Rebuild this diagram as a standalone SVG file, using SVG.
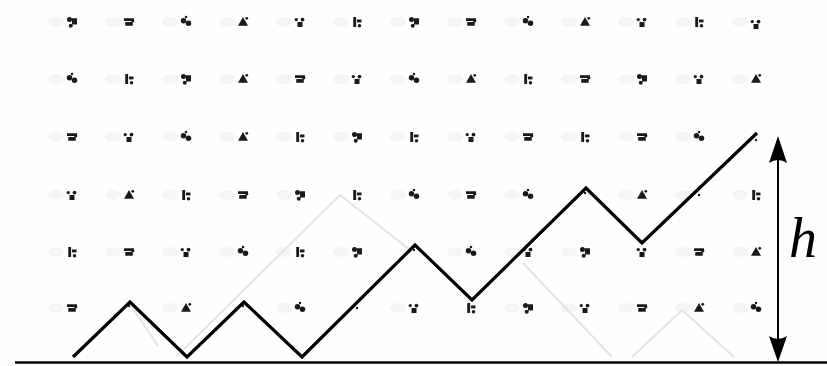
<svg xmlns="http://www.w3.org/2000/svg" width="827" height="366" viewBox="0 0 827 366">
<style>
.ghost{fill:#f5f5f5}
.mk{fill:#1a1a1a}
.faint{fill:none;stroke:#e4e4e4;stroke-width:2}
.path{fill:none;stroke:#000;stroke-width:3.2;stroke-linejoin:miter}
.base{stroke:#000;stroke-width:2.6}
.arr{stroke:#000;stroke-width:2}
.lbl{font-family:"Liberation Serif","DejaVu Serif",serif;font-style:italic;font-size:56px;fill:#000}
</style>
<defs>
<g id="g0" class="mk" transform="scale(1.25)"><circle cx="-2" cy="-2" r="2"/><rect x="0" y="-3" width="4" height="5"/><circle cx="-1" cy="3" r="1.6"/></g>
<g id="g1" class="mk" transform="scale(1.25)"><rect x="-4" y="-3" width="8" height="2.2"/><rect x="-3" y="0" width="6" height="3"/><circle cx="3" cy="-1" r="1.3"/></g>
<g id="g2" class="mk" transform="scale(1.25)"><circle cx="-2" cy="-1" r="2.2"/><circle cx="2" cy="1" r="2.2"/><circle cx="0" cy="-4" r="1"/></g>
<g id="g3" class="mk" transform="scale(1.25)"><path d="M-4 3 L0 -4 L4 3 Z"/><circle cx="3" cy="-3" r="1.1"/></g>
<g id="g4" class="mk" transform="scale(1.25)"><circle cx="-3" cy="-2" r="1.3"/><circle cx="2" cy="-2" r="1.5"/><rect x="-2" y="0" width="4" height="4"/></g>
<g id="g5" class="mk" transform="scale(1.25)"><rect x="-3" y="-4" width="2.3" height="8"/><rect x="0" y="-2" width="3.6" height="2.3"/><circle cx="2" cy="3" r="1.4"/></g>
<g id="dot" class="mk"><circle r="1.2"/></g>
</defs>
<rect width="827" height="366" fill="#fefefe"/>
<g id="ghosts">
<ellipse class="ghost" cx="56" cy="22" rx="8" ry="5"/><ellipse class="ghost" cx="113" cy="22" rx="8" ry="5"/><ellipse class="ghost" cx="170" cy="22" rx="8" ry="5"/><ellipse class="ghost" cx="227" cy="22" rx="8" ry="5"/><ellipse class="ghost" cx="284" cy="22" rx="8" ry="5"/><ellipse class="ghost" cx="341" cy="22" rx="8" ry="5"/><ellipse class="ghost" cx="398" cy="22" rx="8" ry="5"/><ellipse class="ghost" cx="455" cy="22" rx="8" ry="5"/><ellipse class="ghost" cx="512" cy="22" rx="8" ry="5"/><ellipse class="ghost" cx="569" cy="22" rx="8" ry="5"/><ellipse class="ghost" cx="626" cy="22" rx="8" ry="5"/><ellipse class="ghost" cx="683" cy="22" rx="8" ry="5"/><ellipse class="ghost" cx="740" cy="22" rx="8" ry="5"/>
<ellipse class="ghost" cx="56" cy="79" rx="8" ry="5"/><ellipse class="ghost" cx="113" cy="79" rx="8" ry="5"/><ellipse class="ghost" cx="170" cy="79" rx="8" ry="5"/><ellipse class="ghost" cx="227" cy="79" rx="8" ry="5"/><ellipse class="ghost" cx="284" cy="79" rx="8" ry="5"/><ellipse class="ghost" cx="341" cy="79" rx="8" ry="5"/><ellipse class="ghost" cx="398" cy="79" rx="8" ry="5"/><ellipse class="ghost" cx="455" cy="79" rx="8" ry="5"/><ellipse class="ghost" cx="512" cy="79" rx="8" ry="5"/><ellipse class="ghost" cx="569" cy="79" rx="8" ry="5"/><ellipse class="ghost" cx="626" cy="79" rx="8" ry="5"/><ellipse class="ghost" cx="683" cy="79" rx="8" ry="5"/><ellipse class="ghost" cx="740" cy="79" rx="8" ry="5"/>
<ellipse class="ghost" cx="56" cy="137" rx="8" ry="5"/><ellipse class="ghost" cx="113" cy="137" rx="8" ry="5"/><ellipse class="ghost" cx="170" cy="137" rx="8" ry="5"/><ellipse class="ghost" cx="227" cy="137" rx="8" ry="5"/><ellipse class="ghost" cx="284" cy="137" rx="8" ry="5"/><ellipse class="ghost" cx="341" cy="137" rx="8" ry="5"/><ellipse class="ghost" cx="398" cy="137" rx="8" ry="5"/><ellipse class="ghost" cx="455" cy="137" rx="8" ry="5"/><ellipse class="ghost" cx="512" cy="137" rx="8" ry="5"/><ellipse class="ghost" cx="569" cy="137" rx="8" ry="5"/><ellipse class="ghost" cx="626" cy="137" rx="8" ry="5"/><ellipse class="ghost" cx="683" cy="137" rx="8" ry="5"/>
<ellipse class="ghost" cx="56" cy="195" rx="8" ry="5"/><ellipse class="ghost" cx="113" cy="195" rx="8" ry="5"/><ellipse class="ghost" cx="170" cy="195" rx="8" ry="5"/><ellipse class="ghost" cx="227" cy="195" rx="8" ry="5"/><ellipse class="ghost" cx="284" cy="195" rx="8" ry="5"/><ellipse class="ghost" cx="398" cy="195" rx="8" ry="5"/><ellipse class="ghost" cx="455" cy="195" rx="8" ry="5"/><ellipse class="ghost" cx="512" cy="195" rx="8" ry="5"/><ellipse class="ghost" cx="626" cy="195" rx="8" ry="5"/><ellipse class="ghost" cx="683" cy="195" rx="8" ry="5"/><ellipse class="ghost" cx="740" cy="195" rx="8" ry="5"/>
<ellipse class="ghost" cx="56" cy="252" rx="8" ry="5"/><ellipse class="ghost" cx="113" cy="252" rx="8" ry="5"/><ellipse class="ghost" cx="170" cy="252" rx="8" ry="5"/><ellipse class="ghost" cx="227" cy="252" rx="8" ry="5"/><ellipse class="ghost" cx="284" cy="252" rx="8" ry="5"/><ellipse class="ghost" cx="341" cy="252" rx="8" ry="5"/><ellipse class="ghost" cx="455" cy="252" rx="8" ry="5"/><ellipse class="ghost" cx="512" cy="252" rx="8" ry="5"/><ellipse class="ghost" cx="569" cy="252" rx="8" ry="5"/><ellipse class="ghost" cx="683" cy="252" rx="8" ry="5"/><ellipse class="ghost" cx="740" cy="252" rx="8" ry="5"/>
<ellipse class="ghost" cx="56" cy="308" rx="8" ry="5"/><ellipse class="ghost" cx="170" cy="308" rx="8" ry="5"/><ellipse class="ghost" cx="284" cy="308" rx="8" ry="5"/><ellipse class="ghost" cx="398" cy="308" rx="8" ry="5"/><ellipse class="ghost" cx="512" cy="308" rx="8" ry="5"/><ellipse class="ghost" cx="569" cy="308" rx="8" ry="5"/><ellipse class="ghost" cx="626" cy="308" rx="8" ry="5"/><ellipse class="ghost" cx="683" cy="308" rx="8" ry="5"/><ellipse class="ghost" cx="740" cy="308" rx="8" ry="5"/>
</g>
<g id="faint-path">
<polyline class="faint" points="176,357 340,195 410,250"/>
<polyline class="faint" points="130,304 158,346"/>
<polyline class="faint" points="523,263 612,357"/>
<polyline class="faint" points="632,357 682,310 734,357"/>
</g>
<g id="marks">
<use href="#g0" x="72" y="22"/><use href="#g1" x="129" y="22"/><use href="#g2" x="186" y="22"/><use href="#g3" x="243" y="22"/><use href="#g4" x="300" y="22"/><use href="#g5" x="357" y="22"/><use href="#g0" x="414" y="22"/><use href="#g1" x="471" y="22"/><use href="#g2" x="528" y="22"/><use href="#g3" x="585" y="22"/><use href="#g4" x="642" y="22"/><use href="#g5" x="699" y="22"/><use href="#g4" x="756" y="24"/>
<use href="#g2" x="72" y="79"/><use href="#g5" x="129" y="79"/><use href="#g0" x="186" y="79"/><use href="#g3" x="243" y="79"/><use href="#g1" x="300" y="79"/><use href="#g4" x="357" y="79"/><use href="#g2" x="414" y="79"/><use href="#g3" x="471" y="79"/><use href="#g5" x="528" y="79"/><use href="#g1" x="585" y="79"/><use href="#g0" x="642" y="79"/><use href="#g4" x="699" y="79"/><use href="#g3" x="756" y="79"/>
<use href="#g1" x="72" y="137"/><use href="#g4" x="129" y="137"/><use href="#g2" x="186" y="137"/><use href="#g3" x="243" y="137"/><use href="#g5" x="300" y="137"/><use href="#g0" x="357" y="137"/><use href="#g5" x="414" y="137"/><use href="#g4" x="471" y="137"/><use href="#g1" x="528" y="137"/><use href="#g5" x="585" y="137"/><use href="#g1" x="642" y="137"/><use href="#g2" x="699" y="137"/><use href="#dot" x="756" y="140"/>
<use href="#g4" x="72" y="195"/><use href="#g3" x="129" y="195"/><use href="#g5" x="186" y="195"/><use href="#g1" x="243" y="195"/><use href="#g0" x="300" y="195"/><use href="#g5" x="357" y="195"/><use href="#g2" x="414" y="195"/><use href="#g1" x="471" y="195"/><use href="#g2" x="528" y="195"/><use href="#dot" x="585" y="193"/><use href="#g3" x="642" y="195"/><use href="#dot" x="699" y="195"/><use href="#g5" x="756" y="195"/>
<use href="#g5" x="72" y="252"/><use href="#g1" x="129" y="252"/><use href="#g4" x="186" y="252"/><use href="#g2" x="243" y="252"/><use href="#g5" x="300" y="252"/><use href="#g0" x="357" y="252"/><use href="#dot" x="414" y="250"/><use href="#g2" x="471" y="252"/><use href="#g4" x="528" y="252"/><use href="#g0" x="585" y="252"/><use href="#g4" x="642" y="252"/><use href="#g1" x="699" y="252"/><use href="#g3" x="756" y="252"/>
<use href="#g1" x="72" y="308"/><use href="#dot" x="129" y="306"/><use href="#g3" x="186" y="308"/><use href="#dot" x="243" y="306"/><use href="#g2" x="300" y="308"/><use href="#dot" x="357" y="308"/><use href="#g4" x="414" y="308"/><use href="#g5" x="471" y="308"/><use href="#g0" x="528" y="308"/><use href="#g4" x="585" y="308"/><use href="#g1" x="642" y="308"/><use href="#g3" x="699" y="308"/><use href="#g2" x="756" y="308"/>
</g>
<g id="baseline"><line class="base" x1="15" y1="362.5" x2="827" y2="362.5"/></g>
<g id="connectors">
<polyline class="path" points="73,357 130,302 187,357 244,302 302,357 415,245 472,300 586,188 642,243 757,133"/>
</g>
<g id="height-arrow">
<line class="arr" x1="778" y1="150" x2="778" y2="350"/>
<path d="M778 136 L787 163 Q778 157 769 163 Z" fill="#000"/>
<path d="M778 362 L787 336 Q778 342 769 336 Z" fill="#000"/>
</g>
<g id="label-h"><text class="lbl" x="789" y="257">h</text></g>
</svg>
